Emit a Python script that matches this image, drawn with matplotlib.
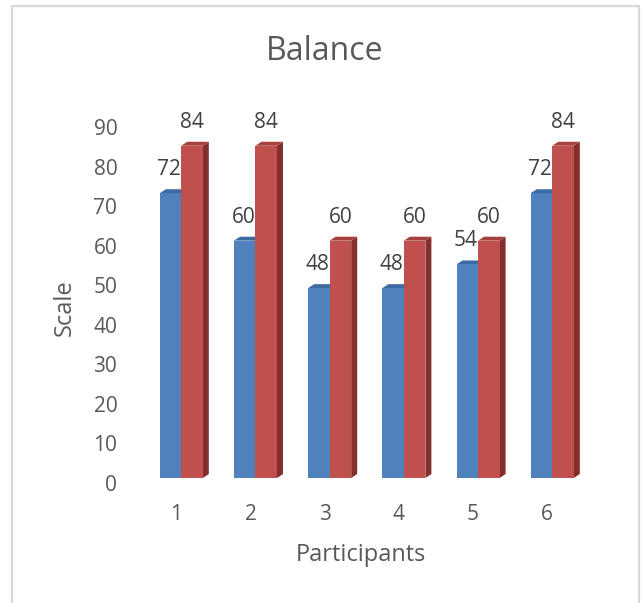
import numpy as np
import matplotlib
matplotlib.use('Agg')
import matplotlib.pyplot as plt
from matplotlib.patches import Polygon, Rectangle
from matplotlib.transforms import ScaledTranslation

participants = ['1', '2', '3', '4', '5', '6']
series_blue = [72, 60, 48, 48, 54, 72]
series_red = [84, 84, 60, 60, 60, 84]
yticks = [0, 10, 20, 30, 40, 50, 60, 70, 80, 90]

plt.rcParams['font.family'] = ['Open Sans', 'DejaVu Sans']
grey = '#595959'

fig = plt.figure(figsize=(6.41, 6.03), dpi=100)
ax = fig.add_axes([0.196, 0.2073, 0.7524, 0.5904])

ind = np.arange(len(participants))
w = 0.29
dx = 0.081   # depth of the fake 3d look
dy = 1.0

def bar3d(xs, vals, front, side, top):
    for x, v in zip(xs, vals):
        ax.bar(x, v, w, color=front, align='edge', zorder=3)
        ax.add_patch(Polygon([(x + w, 0), (x + w + dx, dy), (x + w + dx, v + dy), (x + w, v)],
                             closed=True, facecolor=side, edgecolor='none', zorder=2, clip_on=False))
        ax.add_patch(Polygon([(x, v), (x + dx, v + dy), (x + w + dx, v + dy), (x + w, v)],
                             closed=True, facecolor=top, edgecolor='none', zorder=2, clip_on=False))

bar3d(ind - w, series_blue, '#4F81BD', '#3A6496', '#3C6AA2')
bar3d(ind, series_red, '#C0504D', '#842F2D', '#A5403D')

for x, v in zip(ind - w / 2, series_blue):
    ax.annotate(str(v), (x, v), xytext=(-1, 17), textcoords='offset points',
                ha='center', va='center', fontsize=15, color='#404040')
for x, v in zip(ind + w / 2, series_red):
    ax.annotate(str(v), (x, v), xytext=(0, 17), textcoords='offset points',
                ha='center', va='center', fontsize=15, color='#404040')

ax.set_xlim(-0.75, 5.75)
ax.set_ylim(0, 90)
ax.set_yticks(yticks)
ax.set_xticks(ind)
ax.set_xticklabels(participants)
ax.tick_params(axis='both', length=0, labelsize=15, colors=grey)
ax.tick_params(axis='y', pad=6)
ax.tick_params(axis='x', pad=19)
for s in ax.spines.values():
    s.set_visible(False)

for lab in ax.get_yticklabels():
    lab.set_transform(lab.get_transform() + ScaledTranslation(0, -5 / 100, fig.dpi_scale_trans))
for lab in ax.get_xticklabels():
    lab.set_transform(lab.get_transform() + ScaledTranslation(-5 / 100, 0, fig.dpi_scale_trans))

fig.text(325 / 641, 1 - 52 / 603, 'Balance', ha='center', va='center', fontsize=23, color=grey)
fig.text(361 / 641, 1 - 555 / 603, 'Participants', ha='center', va='center', fontsize=17, color=grey)
fig.text(65 / 641, 1 - 308 / 603, 'Scale', ha='center', va='center', fontsize=17,
         color=grey, rotation=90)

fig.patches.append(Rectangle((12 / 641, -0.1), 627 / 641, 1.1 - 6 / 603, transform=fig.transFigure,
                             fill=False, edgecolor='#D9D9D9', linewidth=1.6, figure=fig))

fig.savefig('out.png', dpi=100)
